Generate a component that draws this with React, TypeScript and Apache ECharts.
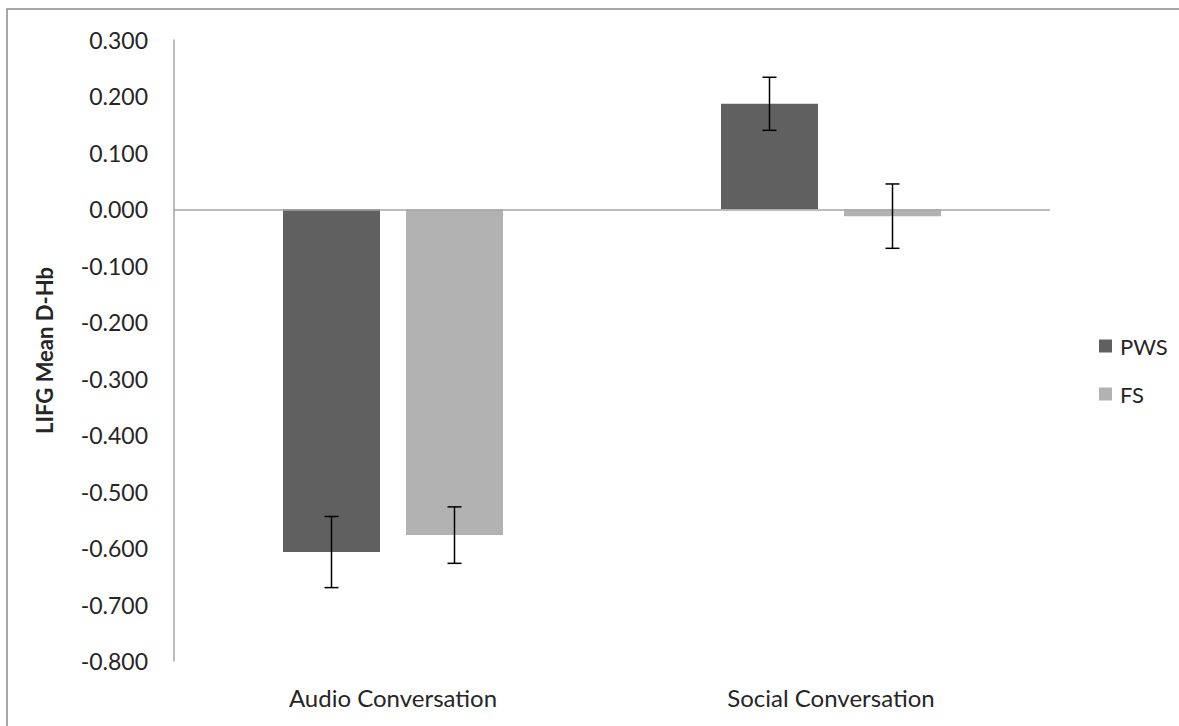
import React, { useEffect, useRef } from "react";
import * as echarts from "echarts";

const categories = ["Audio Conversation", "Social Conversation"];
const seriesNames = ["PWS", "FS"];
const pwsValues = [-0.607, 0.187];
const fsValues = [-0.577, -0.012];
const pwsErrors = [0.063, 0.047];
const fsErrors = [0.05, 0.057];
const yTicks = { min: -0.8, max: 0.3, interval: 0.1 };

const FONT = "Lato";
const TEXT = "#262626";
const BAR_W = 97;
const BAR_GAP_PX = 26;

export default function App() {
  const ref = useRef<HTMLDivElement>(null);
  useEffect(() => {
    const chart = echarts.init(ref.current!, null, { renderer: "svg" });
    const offset = (BAR_W + BAR_GAP_PX) / 2;
    const errSeries = (vals: number[], errs: number[], side: number, name: string) => ({
      type: "custom",
      name: name + "-err",
      z: 10,
      silent: true,
      data: vals.map((v, i) => [i, v - errs[i], v + errs[i]]),
      renderItem: (params: any, api: any) => {
        const lo = api.coord([api.value(0), api.value(1)]);
        const hi = api.coord([api.value(0), api.value(2)]);
        const x = lo[0] + side * offset;
        const cap = 7;
        const style = { stroke: "#000", lineWidth: 1.5 };
        return {
          type: "group",
          children: [
            { type: "line", shape: { x1: x, y1: lo[1], x2: x, y2: hi[1] }, style },
            { type: "line", shape: { x1: x - cap, y1: lo[1], x2: x + cap, y2: lo[1] }, style },
            { type: "line", shape: { x1: x - cap, y1: hi[1], x2: x + cap, y2: hi[1] }, style },
          ],
        };
      },
    });
    chart.setOption({
      animation: false,
      backgroundColor: "#fff",
      textStyle: { fontFamily: FONT },
      grid: { left: 174, right: 129, top: 40, bottom: 65 },
      legend: {
        orient: "vertical",
        left: 1094,
        top: 330,
        itemWidth: 13,
        itemHeight: 13,
        itemGap: 26,
        icon: "rect",
        data: seriesNames,
        textStyle: { fontFamily: FONT, fontSize: 22, color: TEXT, padding: [0, 0, 0, 3] },
      },
      xAxis: {
        type: "category",
        data: categories,
        axisLine: { show: false, onZero: false },
        axisTick: { show: false },
        axisLabel: { margin: 24, fontFamily: FONT, fontSize: 24, color: TEXT },
      },
      yAxis: {
        type: "value",
        min: yTicks.min,
        max: yTicks.max,
        interval: yTicks.interval,
        name: "LIFG Mean D-Hb",
        nameLocation: "middle",
        nameRotate: 90,
        nameGap: 119,
        nameTextStyle: { fontFamily: FONT, fontSize: 22, fontWeight: "bold", color: TEXT },
        axisLine: { show: true, lineStyle: { color: "#a6a6a6", width: 1.5 } },
        axisTick: { show: false },
        splitLine: { show: false },
        axisLabel: {
          margin: 26,
          fontFamily: FONT,
          fontSize: 23,
          color: TEXT,
          formatter: (v: number) => v.toFixed(3),
        },
      },
      series: [
        {
          type: "bar",
          name: "PWS",
          data: pwsValues,
          barWidth: BAR_W,
          barGap: ((BAR_GAP_PX / BAR_W) * 100).toFixed(1) + "%",
          itemStyle: { color: "#606060" },
          markLine: {
            silent: true,
            symbol: "none",
            label: { show: false },
            lineStyle: { color: "#a6a6a6", width: 1.5, type: "solid" },
            data: [{ yAxis: 0 }],
          },
        },
        {
          type: "bar",
          name: "FS",
          data: fsValues,
          barWidth: BAR_W,
          itemStyle: { color: "#b2b2b2" },
        },
        errSeries(pwsValues, pwsErrors, -1, "PWS"),
        errSeries(fsValues, fsErrors, 1, "FS"),
      ],
      graphic: [
        {
          type: "polyline",
          shape: { points: [[7, 726], [7, 9], [1179, 9]] },
          style: { stroke: "#8c8c8c", lineWidth: 1.5, fill: "none" },
          silent: true,
        },
      ],
    });
    return () => chart.dispose();
  }, []);
  return (
    <div
      ref={ref}
      style={{ position: "fixed", left: 0, top: 0, width: 1179, height: 726 }}
    />
  );
}
